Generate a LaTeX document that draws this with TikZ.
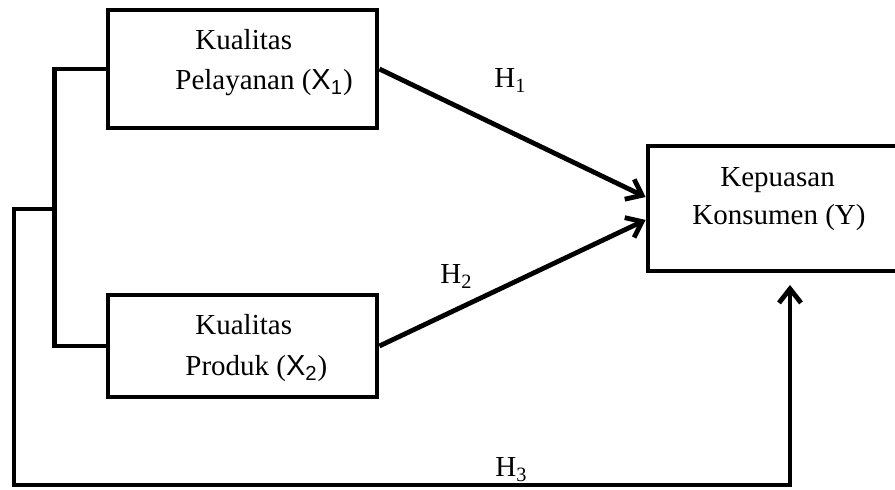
\documentclass[tikz,border=0pt]{standalone}
\usepackage{fontspec}
\setmainfont{Liberation Serif}
\newfontfamily\sansx{Liberation Sans}
\usetikzlibrary{arrows.meta, positioning}

\newcommand{\varx}[1]{{\sansx X\textsubscript{#1}}}

\begin{document}
\begin{tikzpicture}[
    x=0.5pt, y=0.5pt,
    >={Straight Barb[length=7pt,width=11pt]},
    line width=2.4pt,
    font=\fontsize{14.5}{17}\selectfont,
    var/.style={
        draw,
        line width=2.4pt,
        minimum width=134.5pt,
        inner sep=0pt
    },
    txt/.style={
        anchor=base west,
        inner sep=0pt
    },
    hyp/.style={
        anchor=base west,
        inner sep=0pt
    }
]
\useasboundingbox (0,0) rectangle (895,490);

% =========================================================
% Variables
% =========================================================
\node[var, minimum height=59pt] (x1) at (242.5,421) {};
\node[txt] (x1a) at (193,440) {Kualitas};
\node[txt] (x1b) at (173,400) {Pelayanan (\varx{1})};

\node[var, minimum height=51pt] (x2) at (242.5,144) {};
\node[txt] (x2a) at (193,155) {Kualitas};
\node[txt] (x2b) at (183,114) {Produk (\varx{2})};

\node[var, minimum width=128.5pt, minimum height=62.5pt] (y) at (776.5,281.5) {};
\node[txt] (ya) at (718,303) {Kepuasan};
\node[txt] (yb) at (690,265) {Konsumen (Y)};

% =========================================================
% Hypotheses
% =========================================================
\draw[->] (x1.east) -- (y.175);
\draw[->] (x2.east) -- (y.185);

\node[hyp] (h1) at (492,402) {H\textsubscript{1}};
\node[hyp] (h2) at (438,206) {H\textsubscript{2}};

% bracket joining X1 and X2
\draw (x1.west) -- ++(-51,0) |- (x2.west);

% simultaneous path to Y
\coordinate (jn)  at (57,281);
\coordinate (bl)  at (14,5);
\coordinate (end) at (790,205);
\draw[->] (jn) -| (bl) -| (end);

\node[hyp] (h3) at (493,13) {H\textsubscript{3}};

\end{tikzpicture}
\end{document}
